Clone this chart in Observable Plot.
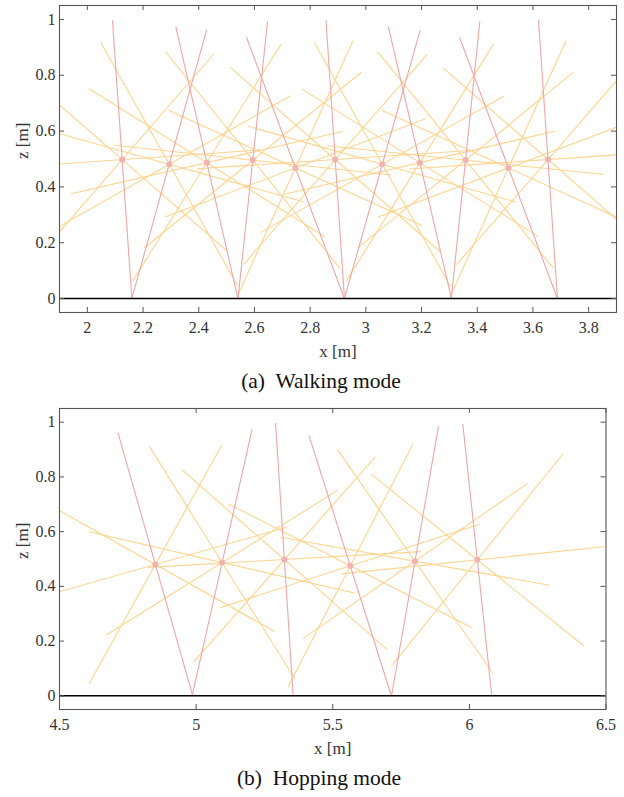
<!DOCTYPE html>
<html><head><meta charset="utf-8">
<script src="https://cdn.jsdelivr.net/npm/d3@7"></script>
<script src="https://cdn.jsdelivr.net/npm/@observablehq/plot@0.6"></script>
<style>
body{margin:0;background:#fff;width:624px;height:797px;position:relative;overflow:hidden;font-family:"Liberation Serif","DejaVu Serif","Times New Roman",serif}
.panel{position:absolute;left:0}
.cap{position:absolute;font-family:"Liberation Serif","DejaVu Serif","Times New Roman",serif;font-size:21.5px;color:#111;white-space:pre;transform:translate(-50%,-50%);line-height:1}
</style></head><body>
<div id="a" class="panel" style="top:0"></div>
<div id="b" class="panel" style="top:403px"></div>
<div class="cap" style="left:321px;top:382px">(a)  Walking mode</div>
<div class="cap" style="left:319px;top:779px">(b)  Hopping mode</div>
<script>
// ---------- Walking mode (a) ----------
const walkHubX = [2.125, 2.294, 2.429, 2.594, 2.747, 2.890, 3.059, 3.194, 3.358, 3.512, 3.654];
const walkHubZ = [0.498, 0.481, 0.487, 0.496, 0.468, 0.498, 0.481, 0.487, 0.496, 0.468, 0.498];
// angle (deg) of the stance leg line (red) through each hub
const walkStanceAngle = [94.0, 74.4, 102.9, 83.9, 110.6, 93.8, 74.2, 103.1, 84.1, 110.6, 93.9];
// angles (deg) of the other leg lines (orange) through each hub
const walkOtherAngles = [
  [49.0, 139.0, 4.0],
  [29.4, 119.4, 164.4],
  [57.9, 147.9, 12.9],
  [38.9, 128.9, 173.9],
  [65.6, 155.6, 20.6],
  [48.8, 138.8, 3.8],
  [29.2, 119.2, 164.2],
  [58.1, 148.1, 13.1],
  [39.1, 129.1, 174.1],
  [65.6, 155.6, 20.6],
  [48.9, 138.9, 3.9]
];
const walkXTicks = [2, 2.2, 2.4, 2.6, 2.8, 3, 3.2, 3.4, 3.6, 3.8];

// ---------- Hopping mode (b) ----------
const hopHubX = [4.851, 5.095, 5.323, 5.564, 5.801, 6.029];
const hopHubZ = [0.480, 0.487, 0.498, 0.475, 0.492, 0.497];
const hopStanceAngle = [105.9, 77.3, 93.7, 107.6, 80.1, 96.1];
const hopOtherAngles = [
  [60.9, 150.7, 15.8],
  [32.0, 122.1, 167.0],
  [48.4, 138.8, 3.3],
  [62.8, 153.1, 17.8],
  [34.6, 124.8, 169.9],
  [51.0, 141.1, 5.9]
];
const hopXTicks = [4.5, 5, 5.5, 6, 6.5];

const zTicks = [0, 0.2, 0.4, 0.6, 0.8, 1];
const legHalfLength = 0.5; // each leg line spans 0.5 m on both sides of the hub

function segment(hx, hz, deg) {
  const r = deg * Math.PI / 180;
  const c = Math.cos(r) * legHalfLength, s = Math.sin(r) * legHalfLength;
  return {x1: hx - c, y1: hz - s, x2: hx + c, y2: hz + s};
}

const FONT = "'Liberation Serif','DejaVu Serif','Times New Roman',serif";

function panel({hubX, hubZ, stance, others, xTicks, xDomain, marginRight, height, marginBottom}) {
  const width = 624, marginLeft = 59, marginTop = 5;
  const fw = width - marginLeft - marginRight;
  const fh = height - marginTop - marginBottom;
  const hubs = hubX.map((x, i) => ({x, z: hubZ[i]}));
  const red = hubs.map((h, i) => segment(h.x, h.z, stance[i]));
  const orange = hubs.flatMap((h, i) => others[i].map(a => segment(h.x, h.z, a)));
  const axisCol = "#555";
  return Plot.plot({
    width, height, marginLeft, marginRight, marginTop, marginBottom,
    x: {domain: xDomain, axis: null},
    y: {domain: [-0.05, 1.05], axis: null},
    style: {fontFamily: FONT, background: "white", overflow: "visible"},
    marks: [
      Plot.link(orange, {x1: "x1", y1: "y1", x2: "x2", y2: "y2", stroke: "#ffd48e", strokeWidth: 1.1, clip: true}),
      Plot.link(red, {x1: "x1", y1: "y1", x2: "x2", y2: "y2", stroke: "#f0a6a6", strokeWidth: 1.1, clip: true}),
      Plot.dot(hubs, {x: "x", y: "z", r: 3, fill: "#f2b2b2"}),
      Plot.ruleY([0], {stroke: "#000", strokeWidth: 1.6}),
      Plot.tickX(xTicks, {x: d => d, insetTop: fh - 5, stroke: axisCol}),
      Plot.tickX(xTicks, {x: d => d, insetBottom: fh - 5, stroke: axisCol}),
      Plot.tickY(zTicks, {y: d => d, insetRight: fw - 5, stroke: axisCol}),
      Plot.tickY(zTicks, {y: d => d, insetLeft: fw - 5, stroke: axisCol}),
      Plot.frame({stroke: axisCol, strokeWidth: 1.1}),
      Plot.text(xTicks, {x: d => d, frameAnchor: "bottom", dy: 15.5, text: d => String(d), fontFamily: FONT, fontSize: 16, fill: "#333", lineAnchor: "middle"}),
      Plot.text(zTicks, {y: d => d, frameAnchor: "left", dx: -4, textAnchor: "end", text: d => String(d), fontFamily: FONT, fontSize: 16, fill: "#333", lineAnchor: "middle"}),
      Plot.text(["x [m]"], {frameAnchor: "bottom", dy: 39, text: d => d, fontFamily: FONT, fontSize: 17, fill: "#333", lineAnchor: "middle"}),
      Plot.text(["z [m]"], {frameAnchor: "left", dx: -37, rotate: -90, text: d => d, fontFamily: FONT, fontSize: 17, fill: "#333", lineAnchor: "middle"})
    ]
  });
}

document.getElementById("a").append(panel({
  hubX: walkHubX, hubZ: walkHubZ, stance: walkStanceAngle, others: walkOtherAngles,
  xTicks: walkXTicks, xDomain: [1.9, 3.9], marginRight: 8, height: 362, marginBottom: 50
}));
document.getElementById("b").append(panel({
  hubX: hopHubX, hubZ: hopHubZ, stance: hopStanceAngle, others: hopOtherAngles,
  xTicks: hopXTicks, xDomain: [4.5, 6.5], marginRight: 18.5, height: 362, marginBottom: 56
}));
</script>
</body></html>
